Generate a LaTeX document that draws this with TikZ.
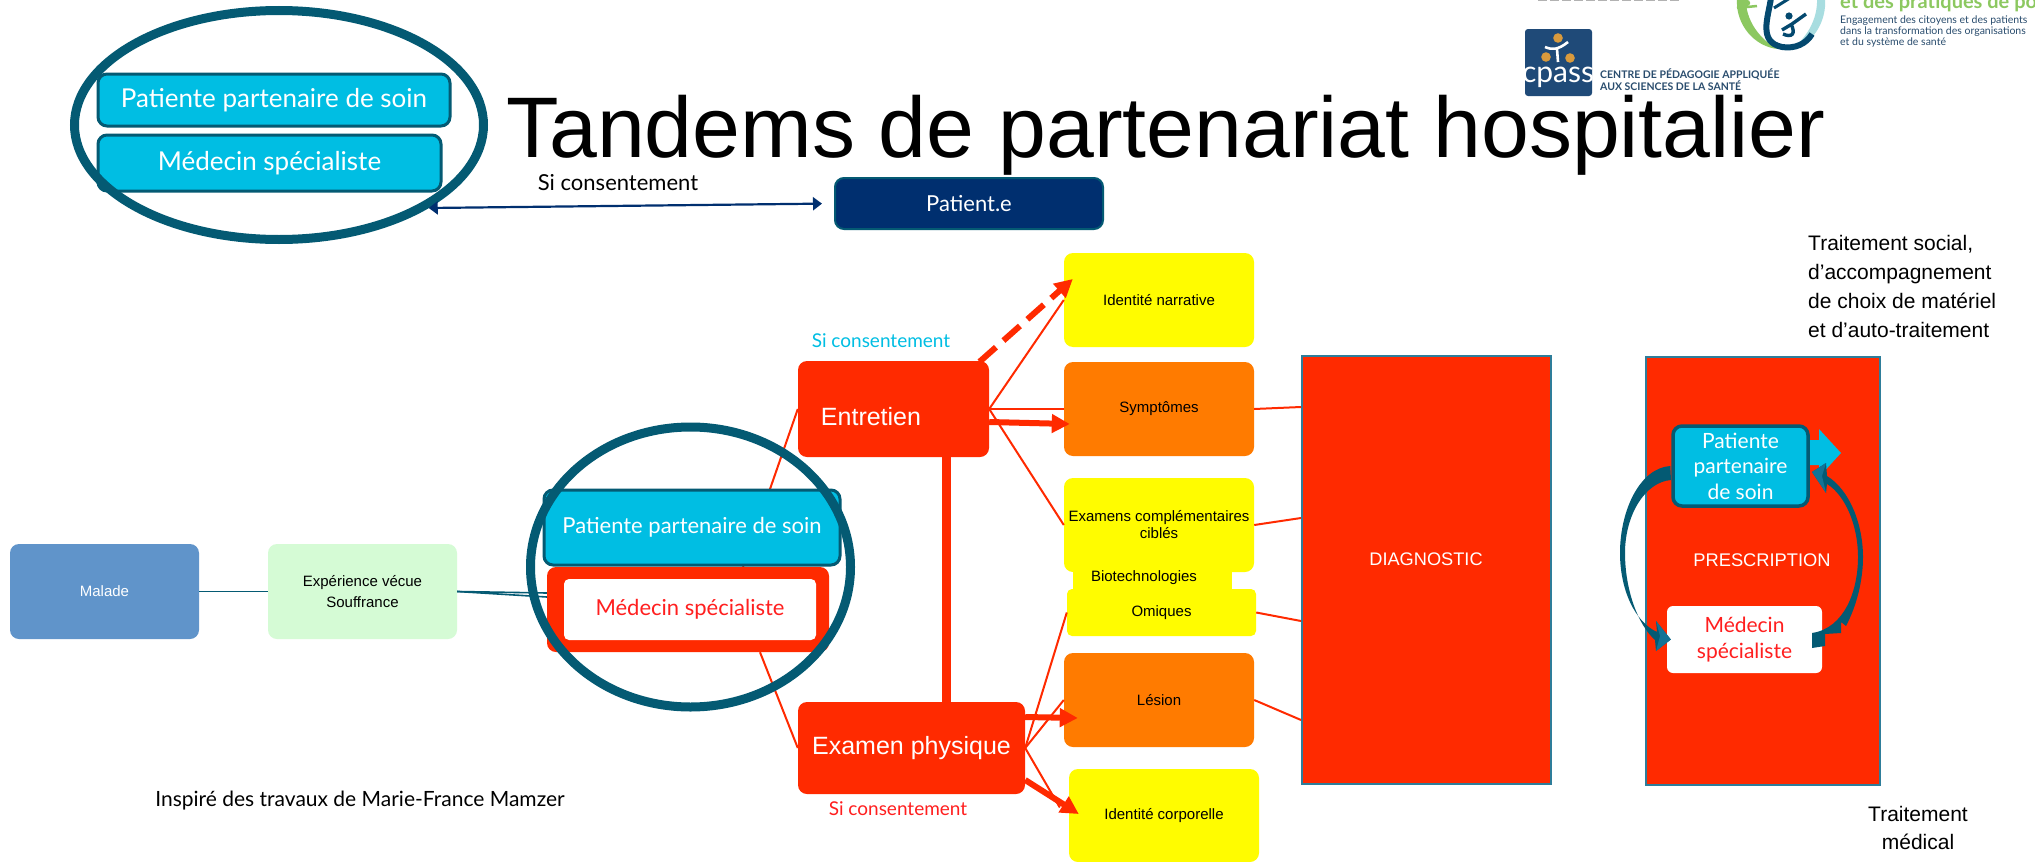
\documentclass[tikz,border=0pt]{standalone}
\usepackage{fontspec}
\setmainfont{Lato}
\newfontfamily\arialf{Liberation Sans}
\usetikzlibrary{arrows.meta,calc,shapes.geometric}
\definecolor{rd}{HTML}{FF2A00}
\definecolor{og}{HTML}{FF7B00}
\definecolor{yl}{HTML}{FFFC00}
\definecolor{cy}{HTML}{00BEE3}
\definecolor{tl}{HTML}{045A73}
\definecolor{tlb}{HTML}{137396}
\definecolor{nv}{HTML}{002F6F}
\definecolor{mb}{HTML}{6094CA}
\definecolor{lg}{HTML}{D5FBD5}
\definecolor{tr}{HTML}{FF1F1F}
\definecolor{bd}{HTML}{2E7D9A}
\definecolor{lgb}{HTML}{1F4A78}
\definecolor{lgt}{HTML}{2A4D6E}
\definecolor{lgg}{HTML}{8CC860}
\definecolor{lgo}{HTML}{D99A3D}
\definecolor{lgc}{HTML}{A8DDE0}
\definecolor{lgd}{HTML}{04496F}
\newcommand\fsz[2]{\fontsize{#1}{#2}\selectfont}
\tikzset{
  bx/.style={rounded corners=9, inner sep=0, align=center},
  small/.style={bx, text=black, font=\arialf\fsz{15}{18}},
  cyanbox/.style={bx, fill=cy, draw=tl, line width=3, text=white},
  red box/.style={bx, fill=rd, text=white, font=\arialf\fsz{25}{30}},
  panel/.style={inner sep=0, fill=rd, draw=bd, line width=2},
  lab/.style={inner sep=0, align=center},
  ring/.style={ellipse, draw=tl, line width=9, inner sep=0, fill=none},
  thinred/.style={draw=rd, line width=2},
  thickred/.style={draw=rd, line width=6, -{Triangle[length=18,width=18]}},
  tealline/.style={draw=tl, line width=1.6},
}
\begin{document}
\begin{tikzpicture}[x=1pt,y=-1pt]
\useasboundingbox (0,0) rectangle (2035,862);
\fill[white] (0,0) rectangle (2035,862);

% logos
\begin{scope}
\clip (0,0) rectangle (2035,862);
\draw[gray!60,line width=2,dash pattern=on 9 off 3] (1538,0) -- (1681,0);
\fill[lgg] (1737,-2) .. controls (1735,25) and (1755,47) .. (1778,49) .. controls (1760,40) and (1745,20) .. (1746,-2) -- cycle;
\fill[lgc] (1825,-2) .. controls (1827,22) and (1812,45) .. (1792,49) .. controls (1806,38) and (1818,20) .. (1817,-2) -- cycle;
\draw[lgd,line width=6] (1771,-2) .. controls (1768,18) and (1758,42) .. (1782,47) .. controls (1795,49) and (1806,44) .. (1812,34);
\draw[lgd,line width=3] (1774,8) -- (1790,-2);
\fill[lgd] (1789,16) circle (3.6);
\draw[lgd,line width=3.4] (1782,30) -- (1792,24) -- (1806,14);
\draw[lgd,line width=3.4] (1791,24) .. controls (1796,34) and (1792,38) .. (1783,34);
\fill[lgg] (1747,3) circle (3.2);
\draw[lgg,line width=2.5] (1737,8) -- (1757,6);
\end{scope}
\node[bx,rounded corners=3,fill=lgb,minimum width=67,minimum height=67] (cpassbox) at (1558.5,62.5) {};
\fill[lgo] (1558,38) circle (4.8) (1546,57) circle (4.8) (1570,58) circle (4.8);
\draw[white,line width=2.6] (1545,47) .. controls (1552,50) and (1558,50) .. (1568,42);
\draw[white,line width=2.6] (1557,49) -- (1558,62);
\node[lab,text=white,font=\fsz{30}{32}] (cpasstxt) at (1558,77) {cpass};
\node[lab,anchor=west,text=lgt,font=\bfseries\fsz{10.5}{12}] (cpassa) at (1600,74) {CENTRE DE PÉDAGOGIE APPLIQUÉE};
\node[lab,anchor=west,text=lgt,font=\bfseries\fsz{10.5}{12}] (cpassb) at (1600,86) {AUX SCIENCES DE LA SANTÉ};
\node[lab,anchor=base west,text=lgg,font=\bfseries\fsz{20}{22}] (ptxt) at (1840,9) {et des pratiques de pointe};
\node[lab,anchor=west,text=lgt,font=\fsz{10.5}{12}] (pa) at (1840,21) {Engagement des citoyens et des patients};
\node[lab,anchor=west,text=lgt,font=\fsz{10.5}{12}] (pb) at (1840,32) {dans la transformation des organisations};
\node[lab,anchor=west,text=lgt,font=\fsz{10.5}{12}] (pc) at (1840,43) {et du système de santé};

% title
\node[lab,anchor=base west,font=\arialf\fsz{86}{90}] (title) at (506,157) {Tandems de partenariat hospitalier};

% top group
\node[cyanbox,font=\fsz{26}{30},minimum width=352,minimum height=52] (toppat) at (274,100) {Patiente partenaire de soin};
\node[cyanbox,font=\fsz{26}{30},minimum width=343,minimum height=56] (topmed) at (269.5,163) {Médecin spécialiste};
\node[ring,minimum width=409,minimum height=229] (topring) at (279,125) {};
\node[bx,fill=nv,draw=tl,line width=2,text=white,font=\fsz{22}{26},minimum width=268,minimum height=51] (patient) at (969,203.5) {Patient.e};
\node[lab,font=\fsz{22}{26}] (sitop) at (618,183) {Si consentement};
\draw[nv,line width=2.2,{Triangle[length=9,width=13]}-{Triangle[length=9,width=13]},shorten >=12] (topring.-29) -- (patient.west);

% left chain nodes
\node[small,fill=mb,text=white,minimum width=189,minimum height=95] (malade) at (104.5,591.5) {Malade};
\node[small,fill=lg,font=\arialf\fsz{15}{21},minimum width=189,minimum height=95] (exper) at (362.5,591.5) {Expérience vécue\\Souffrance};

% central nodes
\node[bx,fill=rd,minimum width=282,minimum height=85] (medouter) at (688,609.5) {};
\node[bx,fill=rd,minimum width=191,minimum height=96] (entretien) at (893.5,409) {};
\node[bx,fill=rd,minimum width=227,minimum height=92] (examen) at (911.5,748) {};
\node[lab,text=white,font=\arialf\fsz{25}{30}] (entlab) at (871,417) {Entretien};
\node[lab,text=white,font=\arialf\fsz{25}{30}] (exlab) at (911.5,748) {Examen physique};

% outcome nodes
\node[small,fill=yl,minimum width=190,minimum height=94] (narr) at (1159,300) {Identité narrative};
\node[small,fill=og,minimum width=190,minimum height=94] (sym) at (1159,409) {Symptômes};
\node[inner sep=0,fill=yl,minimum width=159,minimum height=24] (biobg) at (1152.5,580) {};
\node[small,fill=yl,minimum width=190,minimum height=94,font=\arialf\fsz{15}{17}] (exams) at (1159,525) {Examens complémentaires\\ciblés};
\node[small,fill=yl,rounded corners=5,minimum width=189,minimum height=47] (omi) at (1161.5,612.5) {Omiques};
\node[lab,font=\arialf\fsz{15}{18}] (biolab) at (1144,578) {Biotechnologies};
\node[small,fill=og,minimum width=190,minimum height=94] (les) at (1159,700) {Lésion};
\node[small,fill=yl,minimum width=190,minimum height=93] (idc) at (1164,815.5) {Identité corporelle};

% panels
\node[panel,minimum width=249,minimum height=428] (diag) at (1426.5,570) {};
\node[lab,text=white,font=\arialf\fsz{18.2}{22}] (diaglab) at (1426,559) {DIAGNOSTIC};
\node[panel,minimum width=234,minimum height=428] (presc) at (1763,571) {};
\node[lab,text=white,font=\arialf\fsz{18.3}{22}] (presclab) at (1762,560) {PRESCRIPTION};

% connectors
\begin{scope}[on background layer/.style={}]
\draw[tealline] (malade.east) -- (exper.west);
\draw[tealline] (exper.east) -- ($(medouter.west)+(0,-16.5)$);
\draw[tealline] (exper.east) -- ($(medouter.west)+(0,-12.5)$);
\draw[thinred] (entretien.west) -- ($(medouter.north)+(55,0)$);
\draw[thinred] ($(medouter.south)+(72,0)$) -- (examen.west);
\draw[draw=rd,line width=9.5] ($(entretien.south)+(53,0)$) -- ($(examen.north)+(35,0)$);
\draw[thinred] (entretien.east) -- (narr.west);
\draw[thinred] (entretien.east) -- (sym.west);
\draw[thinred] (entretien.east) -- (exams.west);
\draw[thinred] (examen.east) -- (omi.west);
\draw[thinred] (examen.east) -- (les.west);
\draw[thinred] (examen.east) -- ($(idc.west)+(-9,-8)$);
\draw[thinred] (sym.east) -- ($(diag.west)+(0,-163)$);
\draw[thinred] (exams.east) -- ($(diag.west)+(0,-52)$);
\draw[thinred] (omi.east) -- ($(diag.west)+(0,51)$);
\draw[thinred] (les.east) -- ($(diag.west)+(0,150)$);
\draw[thickred,dash pattern=on 22 off 10] ($(entretien.north)+(86,1)$) -- ($(narr.west)+(9,-21)$);
\draw[thickred] ($(entretien.east)+(0,13)$) -- ($(sym.west)+(6,15)$);
\draw[thickred] ($(examen.east)+(0,-31)$) -- ($(les.west)+(14,18)$);
\draw[thickred] ($(examen.east)+(0,32)$) -- ($(idc.west)+(10,-1.5)$);
\end{scope}

% central labels over the connectors
\node[cyanbox,font=\fsz{22}{26},minimum width=296,minimum height=75] (midpat) at (692,527.5) {Patiente partenaire de soin};
\node[bx,rounded corners=5,fill=white,text=tr,font=\fsz{22}{26},minimum width=252,minimum height=61] (midmed) at (690,609.5) {Médecin spécialiste};
\node[ring,minimum width=320,minimum height=280] (midring) at (690.5,567) {};
\node[lab,text=cy,font=\fsz{19}{22}] (sicy) at (881,341) {Si consentement};
\node[lab,text=tr,font=\fsz{19}{22}] (sird) at (898,809) {Si consentement};
\node[lab,font=\fsz{21}{24}] (insp) at (360,801) {Inspiré des travaux de Marie-France Mamzer};

% prescription inside
\fill[cy] (1805,440) -- (1819,440) -- (1819,429) -- (1841,453) -- (1819,477) -- (1819,465) -- (1805,465) -- cycle;
\node[cyanbox,line width=3.5,text=white,font=\fsz{21}{25.5},minimum width=135,minimum height=80] (pres1) at (1740.5,466) {Patiente\\partenaire\\de soin};
\node[bx,rounded corners=6,fill=white,text=tr,font=\fsz{21}{26},minimum width=155,minimum height=67] (pres2) at (1744.5,639.5) {Médecin\\spécialiste};
% loop arrows
\fill[tl] ($(pres1.west)+(-1,0)$) .. controls (1640,468) and (1620,510) .. (1620,553) .. controls (1620,590) and (1635,622) .. (1657,632) -- (1656,621) -- ($(pres2.west)+(4,0)$) -- (1656,651) -- (1655,640) .. controls (1638,625) and (1625,590) .. (1625,553) .. controls (1625,515) and (1645,482) .. (1671,480) -- cycle;
\fill[tlb] (1656,621) -- ($(pres2.west)+(4,0)$) -- (1656,651) -- (1660,636) -- cycle;
\fill[tl] (1812,648) -- (1825,646) -- (1825,634) -- (1841,633) -- (1841,622) -- (1846,626) .. controls (1857,605) and (1863,580) .. (1863,557) .. controls (1863,525) and (1850,490) .. (1827,476) -- (1826,463) -- (1812,472) -- (1826,493) -- (1827,484) .. controls (1845,495) and (1858,525) .. (1858,557) .. controls (1858,590) and (1845,628) .. (1812,633) -- cycle;
\fill[tlb] (1826,463) -- (1812,472) -- (1826,493) -- (1822,476) -- cycle;

% side notes
\node[lab,anchor=north west,align=left,font=\arialf\fsz{21}{29}] (social) at (1808,235) {Traitement social,\\d’accompagnement\\de choix de matériel\\et d’auto-traitement};
\node[lab,font=\arialf\fsz{21}{28}] (medical) at (1918,828) {Traitement\\médical};
\end{tikzpicture}
\end{document}
